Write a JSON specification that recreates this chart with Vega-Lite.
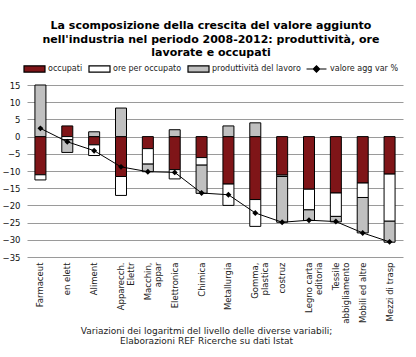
{
  "$schema": "https://vega.github.io/schema/vega-lite/v6.json",
  "width": 376,
  "height": 172,
  "autosize": {"type": "none"},
  "padding": {"left": 27, "top": 85, "right": 13, "bottom": 100},
  "background": "white",
  "title": {
    "text": ["La scomposizione della crescita del valore aggiunto", "nell'industria nel periodo 2008-2012: produttività, ore", "lavorate e occupati"],
    "font": "DejaVu Sans",
    "fontSize": 11,
    "fontWeight": "bold",
    "color": "#000000",
    "lineHeight": 13.5,
    "anchor": "middle",
    "dx": -4,
    "offset": -1
  },
  "datasets": {
    "bars": [
      {"cat": "Farmaceut", "serie": "occupati", "ord": 1, "value": -11.1},
      {"cat": "Farmaceut", "serie": "ore per occupato", "ord": 2, "value": -1.5},
      {"cat": "Farmaceut", "serie": "produttività del lavoro", "ord": 3, "value": 15.0},
      {"cat": "en elett", "serie": "occupati", "ord": 1, "value": 3.1},
      {"cat": "en elett", "serie": "ore per occupato", "ord": 2, "value": -0.9},
      {"cat": "en elett", "serie": "produttività del lavoro", "ord": 3, "value": -3.7},
      {"cat": "Aliment", "serie": "occupati", "ord": 1, "value": -2.4},
      {"cat": "Aliment", "serie": "ore per occupato", "ord": 2, "value": -3.1},
      {"cat": "Aliment", "serie": "produttività del lavoro", "ord": 3, "value": 1.4},
      {"cat": "Apparecch.|Elettr", "serie": "occupati", "ord": 1, "value": -11.6},
      {"cat": "Apparecch.|Elettr", "serie": "ore per occupato", "ord": 2, "value": -5.5},
      {"cat": "Apparecch.|Elettr", "serie": "produttività del lavoro", "ord": 3, "value": 8.3},
      {"cat": "Macchin,|appar", "serie": "occupati", "ord": 1, "value": -3.5},
      {"cat": "Macchin,|appar", "serie": "ore per occupato", "ord": 2, "value": -4.5},
      {"cat": "Macchin,|appar", "serie": "produttività del lavoro", "ord": 3, "value": -2.2},
      {"cat": "Elettronica", "serie": "occupati", "ord": 1, "value": -9.6},
      {"cat": "Elettronica", "serie": "ore per occupato", "ord": 2, "value": -2.7},
      {"cat": "Elettronica", "serie": "produttività del lavoro", "ord": 3, "value": 2.0},
      {"cat": "Chimica", "serie": "occupati", "ord": 1, "value": -6.1},
      {"cat": "Chimica", "serie": "ore per occupato", "ord": 2, "value": -2.2},
      {"cat": "Chimica", "serie": "produttività del lavoro", "ord": 3, "value": -8.2},
      {"cat": "Metallurgia", "serie": "occupati", "ord": 1, "value": -13.8},
      {"cat": "Metallurgia", "serie": "ore per occupato", "ord": 2, "value": -6.2},
      {"cat": "Metallurgia", "serie": "produttività del lavoro", "ord": 3, "value": 3.1},
      {"cat": "Gomma,|plastica", "serie": "occupati", "ord": 1, "value": -18.3},
      {"cat": "Gomma,|plastica", "serie": "ore per occupato", "ord": 2, "value": -7.8},
      {"cat": "Gomma,|plastica", "serie": "produttività del lavoro", "ord": 3, "value": 4.0},
      {"cat": "costruz", "serie": "occupati", "ord": 1, "value": -11.2},
      {"cat": "costruz", "serie": "ore per occupato", "ord": 2, "value": -0.4},
      {"cat": "costruz", "serie": "produttività del lavoro", "ord": 3, "value": -13.3},
      {"cat": "Legno carta|editoria", "serie": "occupati", "ord": 1, "value": -15.3},
      {"cat": "Legno carta|editoria", "serie": "ore per occupato", "ord": 2, "value": -6.0},
      {"cat": "Legno carta|editoria", "serie": "produttività del lavoro", "ord": 3, "value": -3.1},
      {"cat": "Tessile|abbigliamento", "serie": "occupati", "ord": 1, "value": -16.4},
      {"cat": "Tessile|abbigliamento", "serie": "ore per occupato", "ord": 2, "value": -6.8},
      {"cat": "Tessile|abbigliamento", "serie": "produttività del lavoro", "ord": 3, "value": -1.6},
      {"cat": "Mobili ed altre", "serie": "occupati", "ord": 1, "value": -13.5},
      {"cat": "Mobili ed altre", "serie": "ore per occupato", "ord": 2, "value": -4.2},
      {"cat": "Mobili ed altre", "serie": "produttività del lavoro", "ord": 3, "value": -10.3},
      {"cat": "Mezzi di trasp", "serie": "occupati", "ord": 1, "value": -10.9},
      {"cat": "Mezzi di trasp", "serie": "ore per occupato", "ord": 2, "value": -13.7},
      {"cat": "Mezzi di trasp", "serie": "produttività del lavoro", "ord": 3, "value": -6.1}
    ],
    "line": [
      {"cat": "Farmaceut", "valore": 2.4},
      {"cat": "en elett", "valore": -1.5},
      {"cat": "Aliment", "valore": -4.1},
      {"cat": "Apparecch.|Elettr", "valore": -8.8},
      {"cat": "Macchin,|appar", "valore": -10.2},
      {"cat": "Elettronica", "valore": -10.4},
      {"cat": "Chimica", "valore": -16.4},
      {"cat": "Metallurgia", "valore": -16.9},
      {"cat": "Gomma,|plastica", "valore": -22.2},
      {"cat": "costruz", "valore": -24.9},
      {"cat": "Legno carta|editoria", "valore": -24.3},
      {"cat": "Tessile|abbigliamento", "valore": -24.7},
      {"cat": "Mobili ed altre", "valore": -28.0},
      {"cat": "Mezzi di trasp", "valore": -30.6}
    ]
  },
  "encoding": {
    "x": {
      "field": "cat",
      "type": "nominal",
      "sort": null,
      "scale": {"paddingInner": 0, "paddingOuter": 0},
      "axis": {
        "labelAngle": -90,
        "labelExpr": "split(datum.label, '|')",
        "labelFont": "DejaVu Sans",
        "labelFontSize": 8.5,
        "labelColor": "#222222",
        "labelLineHeight": 10,
        "labelPadding": 5,
        "domain": false,
        "ticks": false,
        "grid": false,
        "title": ["Variazioni dei logaritmi del livello delle diverse variabili;", "Elaborazioni REF Ricerche su dati Istat"],
        "titleFont": "DejaVu Sans",
        "titleFontSize": 9,
        "titleFontWeight": "normal",
        "titleColor": "#222222",
        "titleLineHeight": 10.5,
        "titlePadding": 3,
        "titleX": 179
      }
    }
  },
  "layer": [
    {
      "data": {"name": "bars"},
      "mark": {"type": "bar", "size": 11, "stroke": "#000000", "strokeWidth": 1},
      "encoding": {
        "y": {
          "field": "value",
          "type": "quantitative",
          "stack": "zero",
          "scale": {"domain": [-35, 15], "nice": false},
          "axis": {
            "values": [-35, -30, -25, -20, -15, -10, -5, 0, 5, 10, 15],
            "labelOverlap": false,
            "title": null
          }
        },
        "order": {"field": "ord", "type": "quantitative"},
        "color": {
          "field": "serie",
          "type": "nominal",
          "scale": {
            "domain": ["occupati", "ore per occupato", "produttività del lavoro", "valore agg var %"],
            "range": ["#7f1518", "#ffffff", "#c0c0c0", "#000000"]
          },
          "legend": {
            "title": null,
            "orient": "none",
            "direction": "horizontal",
            "legendX": -4,
            "legendY": -28,
            "symbolSize": 441,
            "labelFont": "DejaVu Sans",
            "labelFontSize": 8,
            "labelColor": "#222222",
            "labelOffset": 2,
            "columnPadding": 3,
            "symbolStrokeColor": "#000000",
            "symbolStrokeWidth": 1.2,
            "symbolOpacity": 1,
            "encode": {
              "symbols": {
                "update": {
                  "shape": [
                    {"test": "datum.value === 'valore agg var %'", "value": "M-0.95,0H0.95M-0.3,0L0,-0.3L0.3,0L0,0.3Z"},
                    {"value": "M-1,-0.3H1V0.3H-1Z"}
                  ],
                  "stroke": {"value": "#000000"},
                  "strokeWidth": {"value": 1.2}
                }
              }
            }
          }
        }
      }
    },
    {
      "data": {"name": "line"},
      "mark": {"type": "line", "color": "#000000", "strokeWidth": 1},
      "encoding": {
        "y": {"field": "valore", "type": "quantitative", "axis": {"values": [-35, -30, -25, -20, -15, -10, -5, 0, 5, 10, 15], "labelOverlap": false, "title": null}}
      }
    },
    {
      "data": {"name": "line"},
      "mark": {"type": "point", "shape": "diamond", "filled": true, "color": "#000000", "size": 35, "opacity": 1},
      "encoding": {
        "y": {"field": "valore", "type": "quantitative", "axis": {"values": [-35, -30, -25, -20, -15, -10, -5, 0, 5, 10, 15], "labelOverlap": false, "title": null}}
      }
    }
  ],
  "config": {
    "view": {"stroke": null},
    "axisY": {
      "grid": true,
      "gridColor": "#9a9a9a",
      "gridWidth": 1,
      "domain": false,
      "ticks": false,
      "labelFont": "DejaVu Sans",
      "labelFontSize": 8.5,
      "labelColor": "#111111",
      "labelPadding": 7,
      "labelOverlap": false,
      "tickCount": 11
    }
  }
}
